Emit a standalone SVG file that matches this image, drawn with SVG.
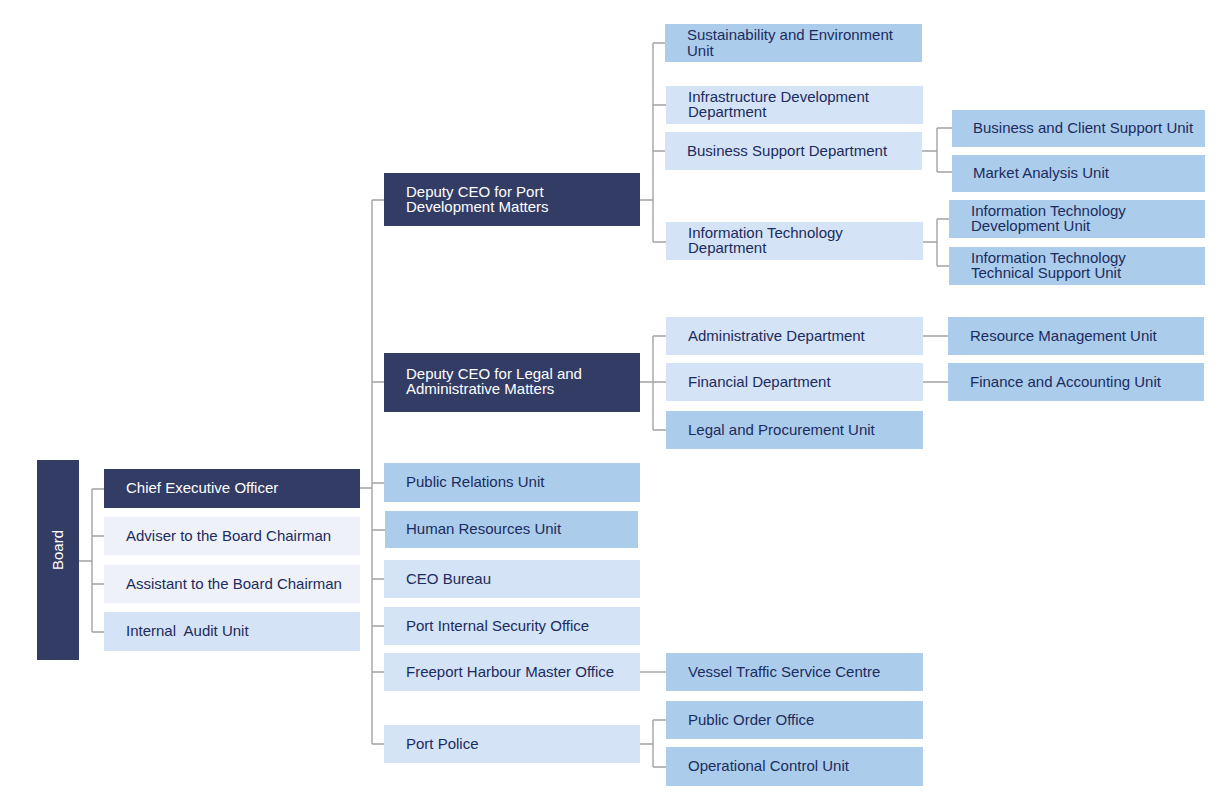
<svg xmlns="http://www.w3.org/2000/svg" width="1218" height="797" viewBox="0 0 1218 797">
<style>
text{font-family:"Liberation Sans",Arial,sans-serif;font-size:15px;fill:#1c2b5e;white-space:pre}
.dk rect{fill:#333c65}
.dk text{fill:#ffffff}
.md rect{fill:#abcdeb}
.lt rect{fill:#d4e3f5}
.vl rect{fill:#eef2f8}
#connectors path{fill:none;stroke:#a3a3a3;stroke-width:1.4}
</style>
<rect width="1218" height="797" fill="#ffffff"/>
<g id="connectors">
<path d="M79,561H92M92,489V632M92,489H104M92,536H104M92,584H104M92,632H104"/>
<path d="M360,488H372M372,200V744M372,200H384M372,382H384M372,483H384M372,530H385M372,579H384M372,626H384M372,672H384M372,744H384"/>
<path d="M640,200H653M653,43V242M653,43H665M653,105H666M653,151H665M653,242H666"/>
<path d="M922,151H937M937,128V172M937,128H952M937,172H952"/>
<path d="M923,242H937M937,219V266M937,219H949M937,266H949"/>
<path d="M640,382H653M653,336V430M653,336H666M653,382H666M653,430H666"/>
<path d="M923,336H948M923,382H948"/>
<path d="M640,672H666"/>
<path d="M640,744H653M653,720V767M653,720H666M653,767H666"/>
</g>
<g id="board" class="dk"><rect x="37" y="460" width="42" height="200"/><text transform="translate(63,550) rotate(-90)" text-anchor="middle">Board</text></g>
<g id="ceo" class="dk"><rect x="104" y="469" width="256" height="39"/><text x="126" y="493">Chief Executive Officer</text></g>
<g id="adviser" class="vl"><rect x="104" y="517" width="256" height="38"/><text x="126" y="540.5">Adviser to the Board Chairman</text></g>
<g id="assistant" class="vl"><rect x="104" y="565" width="256" height="38"/><text x="126" y="588.5">Assistant to the Board Chairman</text></g>
<g id="audit" class="lt"><rect x="104" y="612" width="256" height="39"/><text x="126" y="636">Internal  Audit Unit</text></g>
<g id="dceo1" class="dk"><rect x="384" y="173" width="256" height="53"/><text x="406" y="196.5">Deputy CEO for Port<tspan x="406" dy="15">Development Matters</tspan></text></g>
<g id="dceo2" class="dk"><rect x="384" y="353" width="256" height="59"/><text x="406" y="379">Deputy CEO for Legal and<tspan x="406" dy="15">Administrative Matters</tspan></text></g>
<g id="pr" class="md"><rect x="384" y="463" width="256" height="39"/><text x="406" y="487">Public Relations Unit</text></g>
<g id="hr" class="md"><rect x="385" y="511" width="253" height="37"/><text x="406" y="534">Human Resources Unit</text></g>
<g id="bureau" class="lt"><rect x="384" y="560" width="256" height="38"/><text x="406" y="583.5">CEO Bureau</text></g>
<g id="security" class="lt"><rect x="384" y="607" width="256" height="38"/><text x="406" y="630.5">Port Internal Security Office</text></g>
<g id="harbour" class="lt"><rect x="384" y="653" width="256" height="38"/><text x="406" y="676.5">Freeport Harbour Master Office</text></g>
<g id="police" class="lt"><rect x="384" y="725" width="256" height="38"/><text x="406" y="748.5">Port Police</text></g>
<g id="sustain" class="md"><rect x="665" y="24" width="257" height="38"/><text x="687" y="40">Sustainability and Environment<tspan x="687" dy="15.5">Unit</tspan></text></g>
<g id="infra" class="lt"><rect x="666" y="86" width="257" height="38"/><text x="688" y="101.5">Infrastructure Development<tspan x="688" dy="15.5">Department</tspan></text></g>
<g id="bizsupport" class="lt"><rect x="665" y="132" width="257" height="38"/><text x="687" y="155.5">Business Support Department</text></g>
<g id="itdept" class="lt"><rect x="666" y="222" width="257" height="38"/><text x="688" y="237.5">Information Technology<tspan x="688" dy="15.5">Department</tspan></text></g>
<g id="admin" class="lt"><rect x="666" y="317" width="257" height="38"/><text x="688" y="340.5">Administrative Department</text></g>
<g id="financial" class="lt"><rect x="666" y="363" width="257" height="38"/><text x="688" y="386.5">Financial Department</text></g>
<g id="legal" class="md"><rect x="666" y="411" width="257" height="38"/><text x="688" y="434.5">Legal and Procurement Unit</text></g>
<g id="vessel" class="md"><rect x="666" y="653" width="257" height="38"/><text x="688" y="676.5">Vessel Traffic Service Centre</text></g>
<g id="publicorder" class="md"><rect x="666" y="701" width="257" height="38"/><text x="688" y="724.5">Public Order Office</text></g>
<g id="opcontrol" class="md"><rect x="666" y="747" width="257" height="39"/><text x="688" y="771">Operational Control Unit</text></g>
<g id="bizclient" class="md"><rect x="952" y="110" width="253" height="37"/><text x="973" y="133">Business and Client Support Unit</text></g>
<g id="market" class="md"><rect x="952" y="155" width="253" height="37"/><text x="973" y="178">Market Analysis Unit</text></g>
<g id="itdev" class="md"><rect x="949" y="200" width="256" height="38"/><text x="971" y="215.5">Information Technology<tspan x="971" dy="15.5">Development Unit</tspan></text></g>
<g id="ittech" class="md"><rect x="949" y="247" width="256" height="38"/><text x="971" y="262.5">Information Technology<tspan x="971" dy="15.5">Technical Support Unit</tspan></text></g>
<g id="resource" class="md"><rect x="948" y="317" width="256" height="38"/><text x="970" y="340.5">Resource Management Unit</text></g>
<g id="finance" class="md"><rect x="948" y="363" width="256" height="38"/><text x="970" y="386.5">Finance and Accounting Unit</text></g>
</svg>
